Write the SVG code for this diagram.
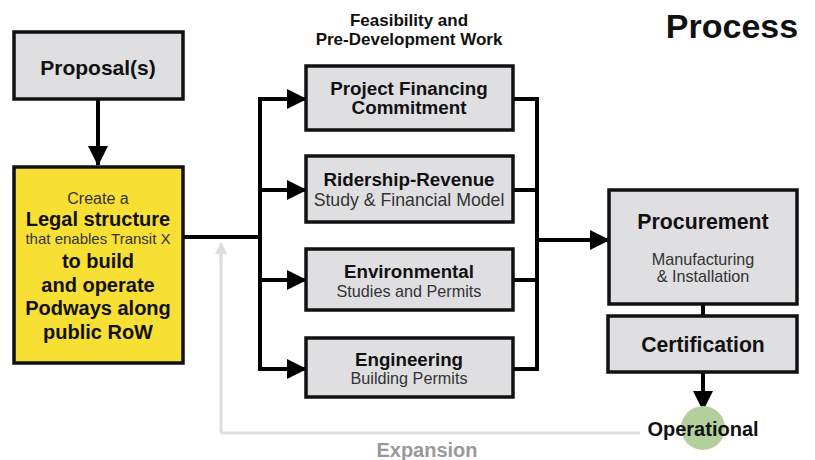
<svg xmlns="http://www.w3.org/2000/svg" width="815" height="460" viewBox="0 0 815 460">
<style>
text{font-family:"Liberation Sans",Arial,sans-serif;text-anchor:middle;fill:#111}
.b{font-weight:bold}
.box{fill:#dfdfe1;stroke:#111;stroke-width:3.5}
.ln{fill:none;stroke:#000;stroke-width:4}
.sub{fill:#333}
</style>
<defs>
<marker id="ah" markerWidth="20" markerHeight="20" refX="19" refY="10" orient="auto" markerUnits="userSpaceOnUse"><path d="M0,0 L20,10 L0,20 Z" fill="#000"/></marker>
<marker id="ahg" markerWidth="12" markerHeight="12" refX="11" refY="6" orient="auto" markerUnits="userSpaceOnUse"><path d="M0,0 L12,6 L0,12 Z" fill="#ddd"/></marker>
</defs>
<text class="b" x="732" y="38" font-size="34">Process</text>
<text class="b" x="409" y="26" font-size="17">Feasibility and</text>
<text class="b" x="409" y="45" font-size="17">Pre-Development Work</text>
<g id="connectors">
<path d="M221,433 L640,433 M221,433 L221,250" fill="none" stroke="#ddd" stroke-width="3"/>
<path d="M221,262 L221,243" fill="none" stroke="#ddd" stroke-width="3" marker-end="url(#ahg)"/>
<path class="ln" d="M98,99 L98,165" marker-end="url(#ah)"/>
<path class="ln" d="M183,237 L260,237 M260,97 L260,371"/>
<path class="ln" d="M258,99 L306,99" marker-end="url(#ah)"/>
<path class="ln" d="M258,190 L306,190" marker-end="url(#ah)"/>
<path class="ln" d="M258,280 L306,280" marker-end="url(#ah)"/>
<path class="ln" d="M258,369 L306,369" marker-end="url(#ah)"/>
<path class="ln" d="M513,99 L537,99 M513,190 L537,190 M513,280 L537,280 M513,369 L537,369 M537,97 L537,371"/>
<path class="ln" d="M535,240 L609,240" marker-end="url(#ah)"/>
<path class="ln" d="M703,304 L703,317"/>
<path class="ln" d="M703,372 L703,410" marker-end="url(#ah)"/>
</g>
<g id="proposal">
<rect class="box" x="14" y="32" width="169" height="67"/>
<text class="b" x="98" y="75" font-size="21">Proposal(s)</text>
</g>
<g id="legal">
<rect x="14" y="167" width="169" height="196" fill="#f8df33" stroke="#111" stroke-width="3.5"/>
<text x="98" y="204" font-size="16" class="sub">Create a</text>
<text class="b" x="98" y="226" font-size="20">Legal structure</text>
<text x="98" y="244" font-size="15" class="sub">that enables Transit X</text>
<text class="b" x="98" y="268" font-size="20">to build</text>
<text class="b" x="98" y="292" font-size="20">and operate</text>
<text class="b" x="98" y="315" font-size="20">Podways along</text>
<text class="b" x="98" y="339" font-size="20">public RoW</text>
</g>
<g id="financing">
<rect class="box" x="306" y="66" width="207" height="64"/>
<text class="b" x="409" y="95" font-size="18.8">Project Financing</text>
<text class="b" x="409" y="114" font-size="18.8">Commitment</text>
</g>
<g id="ridership">
<rect class="box" x="306" y="156" width="207" height="66"/>
<text class="b" x="409" y="186" font-size="18.8">Ridership-Revenue</text>
<text x="409" y="206" font-size="17.7" class="sub">Study &amp; Financial Model</text>
</g>
<g id="environmental">
<rect class="box" x="306" y="249" width="207" height="61"/>
<text class="b" x="409" y="278" font-size="18.7">Environmental</text>
<text x="409" y="297" font-size="16.2" class="sub">Studies and Permits</text>
</g>
<g id="engineering">
<rect class="box" x="306" y="338" width="207" height="59"/>
<text class="b" x="409" y="366" font-size="18.7">Engineering</text>
<text x="409" y="384" font-size="16.2" class="sub">Building Permits</text>
</g>
<g id="procurement">
<rect class="box" x="609" y="190" width="188" height="114"/>
<text class="b" x="703" y="229" font-size="21.3">Procurement</text>
<text x="703" y="265" font-size="16.2" class="sub">Manufacturing</text>
<text x="703" y="282" font-size="16.2" class="sub">&amp; Installation</text>
</g>
<g id="certification">
<rect class="box" x="608" y="316" width="189" height="56"/>
<text class="b" x="703" y="352" font-size="21.2">Certification</text>
</g>
<g id="operational">
<circle cx="703" cy="428" r="22" fill="#b3cf9c"/>
<text class="b" x="703" y="436" font-size="20">Operational</text>
</g>
<g id="expansion">
<text class="b" x="427" y="457" font-size="20" style="fill:#999">Expansion</text>
</g>
</svg>
